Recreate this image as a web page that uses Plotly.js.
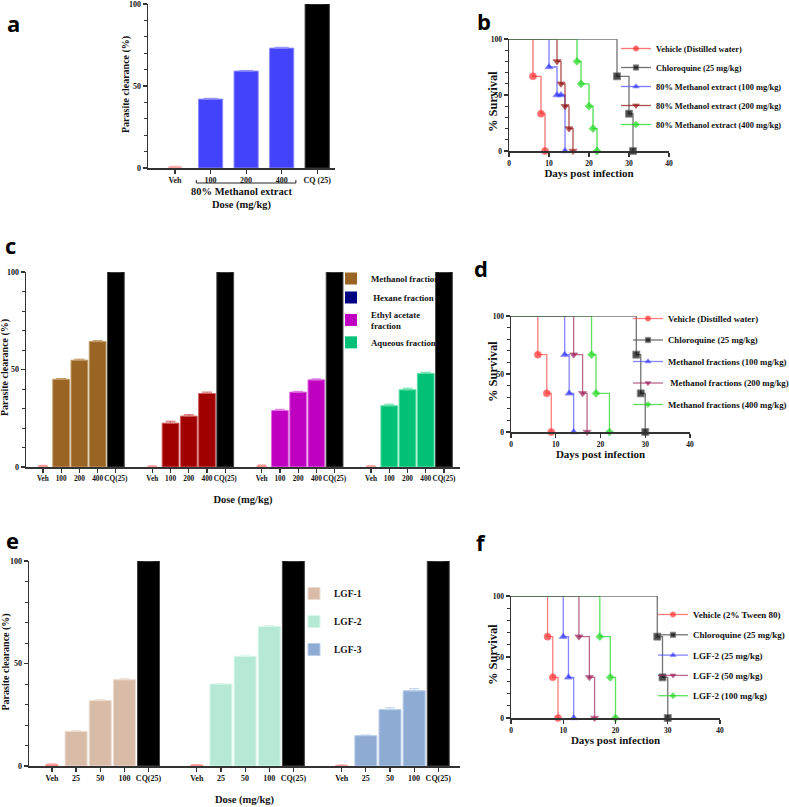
<!DOCTYPE html>
<html><head><meta charset="utf-8">
<script src="https://cdn.plot.ly/plotly-3.0.1.min.js"></script>
<style>html,body{margin:0;padding:0;background:#fff}#chart{width:789px;height:807px}</style>
</head><body><div id="chart"></div>
<script>
// ---------------- DATA ----------------
// Panel a: 80% methanol extract, parasite clearance (%)
const aTickLabels = ['Veh', '100', '200', '400', 'CQ (25)'];
const aValues = [0.8, 42.0, 59.1, 73.1, 100];
const aErrors = [0.3, 0.5, 0.4, 0.5, 0];

// Panel b: survival, 80% methanol extract
const bNames = ['Vehicle (Distilled water)', 'Chloroquine (25 mg/kg)', '80% Methanol extract (100 mg/kg)', '80% Methanol extract (200 mg/kg)', '80% Methanol extract (400 mg/kg)'];
const bDays = [[0, 6, 8, 9], [0, 27, 30, 31], [0, 10, 12, 13, 14], [0, 12, 13, 14, 15, 16], [0, 17, 18, 20, 21, 22]];
const bSurvival = [[100, 66.7, 33.3, 0], [100, 66.7, 33.3, 0], [100, 75, 50, 50, 0], [100, 80, 60, 40, 20, 0], [100, 80, 60, 40, 20, 0]];

// Panel c: solvent fractions, parasite clearance (%)
const cTickLabels = ['Veh', '100', '200', '400', 'CQ(25)'];
const cFractionNames = ['Methanol fraction', ' Hexane fraction', 'Ethyl acetate<br>fraction', 'Aqueous fraction'];
const cVehicle = [0.6, 0.4, 0.7, 0.4];
const cVehicleErr = [0.3, 0.2, 0.4, 0.2];
const cMethanol = [45.0, 54.8, 64.3];
const cHexane = [22.5, 26.1, 37.7];
const cEthylAcetate = [29.0, 38.4, 44.7];
const cAqueous = [31.4, 39.6, 48.0];
const cMethanolErr = [0.4, 0.5, 0.5];
const cHexaneErr = [1.0, 0.7, 0.7];
const cEthylAcetateErr = [0.6, 0.4, 0.5];
const cAqueousErr = [0.8, 0.8, 0.6];
const cChloroquine = [100, 100, 100, 100];

// Panel d: survival, methanol fractions
const dNames = ['Vehicle (Distilled water)', 'Chloroquine (25 mg/kg)', 'Methanol fractions (100 mg/kg)', ' Methanol fractions (200 mg/kg)', 'Methanol fractions (400 mg/kg)'];
const dDays = [[0, 6, 8, 9], [0, 28, 29, 30], [0, 12, 13, 14], [0, 14, 16, 17], [0, 18, 19, 22]];
const dSurvival = [[100, 66.7, 33.3, 0], [100, 66.7, 33.3, 0], [100, 66.7, 33.3, 0], [100, 66.7, 33.3, 0], [100, 66.7, 33.3, 0]];

// Panel e: LGF sub-fractions, parasite clearance (%)
const eTickLabels = ['Veh', '25', '50', '100', 'CQ(25)'];
const eNames = ['LGF-1', 'LGF-2', 'LGF-3'];
const eVehicle = [0.8, 0.5, 0.3];
const eVehicleErr = [0.2, 0.2, 0.2];
const eLGF1 = [16.9, 31.9, 42.1];
const eLGF2 = [40.0, 53.5, 68.1];
const eLGF3 = [14.8, 27.5, 36.7];
const eLGF1Err = [0.3, 0.4, 0.5];
const eLGF2Err = [0.3, 0.6, 0.4];
const eLGF3Err = [0.3, 0.9, 1.0];
const eChloroquine = [100, 100, 100];

// Panel f: survival, LGF-2
const fNames = ['Vehicle (2% Tween 80)', 'Chloroquine (25 mg/kg)', 'LGF-2 (25 mg/kg)', 'LGF-2 (50 mg/kg)', 'LGF-2 (100 mg/kg)'];
const fDays = [[0, 7, 8, 9], [0, 28, 29, 30], [0, 10, 11, 12], [0, 13, 15, 16], [0, 17, 19, 20]];
const fSurvival = [[100, 66.7, 33.3, 0], [100, 66.7, 33.3, 0], [100, 66.7, 33.3, 0], [100, 66.7, 33.3, 0], [100, 66.7, 33.3, 0]];

// ---------------- STYLE / LAYOUT ----------------
const W = 789, H = 807;
const X = p => p / W, Y = p => 1 - p / H;
const SERIF = 'Liberation Serif';
const tf = (s) => ({family: SERIF, size: s, weight: 'bold', color: '#111'});

function axisBase(extra) {
  return Object.assign({
    showgrid: false, zeroline: false, showline: true, linecolor: '#333', linewidth: 1.5,
    ticks: 'outside', ticklen: 4, tickwidth: 1.2, tickcolor: '#333', tickangle: 0,
    tickfont: tf(8), fixedrange: true
  }, extra);
}
const yMinor = {ticks: 'outside', dtick: 10, tick0: 0, ticklen: 2.5, tickwidth: 1, tickcolor: '#333'};

const traces = [];

function barTrace(x, y, err, color, lineColor, width, xa, ya, errWidth) {
  return {
    type: 'bar', x: x, y: y, xaxis: xa, yaxis: ya, width: width, showlegend: false,
    marker: {color: color, line: {color: lineColor, width: 1}},
    error_y: {type: 'data', symmetric: false, array: err, arrayminus: err.map(() => 0),
      color: lineColor, thickness: 1, width: errWidth},
    hoverinfo: 'skip'
  };
}

// Panel a
const aIdx = aValues.map((_, i) => i);
traces.push(barTrace([aIdx[0]], [aValues[0]], [aErrors[0]], '#ff8a8a', '#ffb0b0', 0.35, 'x', 'y', 4));
traces.push(barTrace(aIdx.slice(1, 4), aValues.slice(1, 4), aErrors.slice(1, 4), '#4343fb', '#8d8dff', 0.68, 'x', 'y', 7));
traces.push(barTrace([aIdx[4]], [aValues[4]], [aErrors[4]], '#000000', '#333', 0.68, 'x', 'y', 7));

// Panel c
const cDose = [cMethanol, cHexane, cEthylAcetate, cAqueous];
const cDoseErr = [cMethanolErr, cHexaneErr, cEthylAcetateErr, cAqueousErr];
const cBarColors = ['#9a6524', '#a00000', '#c000c0', '#00c176'];
const cEdgeColors = ['#c19a66', '#d06060', '#e070e0', '#60e0a8'];
const cLegendColors = ['#9a6524', '#000080', '#c000c0', '#00c176'];
const cTickVals = [], cTickText = [];
cDose.forEach((vals, g) => {
  const base = g * 6;
  traces.push(barTrace([base], [cVehicle[g]], [cVehicleErr[g]], '#ff7070', '#ffa0a0', 0.5, 'x3', 'y3', 4));
  traces.push(barTrace(vals.map((_, i) => base + 1 + i), vals, cDoseErr[g], cBarColors[g], cEdgeColors[g], 0.92, 'x3', 'y3', 5));
  traces.push(barTrace([base + 4], [cChloroquine[g]], [0], '#000000', '#444', 0.92, 'x3', 'y3', 5));
  cTickLabels.forEach((t, i) => { cTickVals.push(base + i); cTickText.push(t); });
});
cFractionNames.forEach((n, g) => {
  traces.push({type: 'bar', x: [null], y: [null], xaxis: 'x3', yaxis: 'y3', name: n, legend: 'legend2',
    marker: {color: cLegendColors[g]}, showlegend: true, hoverinfo: 'skip'});
});

// Panel e
const eDose = [eLGF1, eLGF2, eLGF3];
const eDoseErr = [eLGF1Err, eLGF2Err, eLGF3Err];
const eBarColors = ['#d9bca7', '#b5e9d6', '#8eabd4'];
const eEdgeColors = ['#ecdccf', '#d8f6ea', '#b9cdea'];
const eTickVals = [], eTickText = [];
eDose.forEach((vals, g) => {
  const base = g * 6;
  traces.push(barTrace([base], [eVehicle[g]], [eVehicleErr[g]], '#ff7070', '#ffa0a0', 0.5, 'x5', 'y5', 4));
  const t = barTrace(vals.map((_, i) => base + 1 + i), vals, eDoseErr[g], eBarColors[g], eEdgeColors[g], 0.91, 'x5', 'y5', 5);
  t.showlegend = true; t.name = eNames[g]; t.legend = 'legend4'; t.legendgroup = eNames[g];
  traces.push(t);
  traces.push(barTrace([base + 4], [eChloroquine[g]], [0], '#000000', '#444', 0.91, 'x5', 'y5', 5));
  eTickLabels.forEach((tt, i) => { eTickVals.push(base + i); eTickText.push(tt); });
});

// Survival panels
function survivalSet(names, days, surv, xa, ya, legend, colors) {
  const symbols = ['circle', 'square', 'triangle-up', 'triangle-down', 'diamond'];
  const drawOrder = [0, 2, 3, 4, 1]; // chloroquine drawn last (grey top line)
  drawOrder.forEach(k => {
    traces.push({
      type: 'scatter', mode: 'lines+markers', x: days[k], y: surv[k], name: names[k],
      xaxis: xa, yaxis: ya, legend: legend, legendrank: k + 1, legendgroup: legend + k,
      line: {shape: 'hv', color: colors[k][1], width: 1.3},
      marker: {symbol: symbols[k], color: colors[k][0], size: days[k].map((_, i) => i === 0 ? 0 : (k === 4 ? 6 : 7))},
      cliponaxis: false, hoverinfo: 'skip'
    });
  });
}
const bCols = [['#ff2a2a', 'rgba(255,70,70,0.75)'], ['#000000', 'rgba(90,90,90,0.85)'], ['#2a2aff', 'rgba(80,80,255,0.75)'], ['#8b0a0a', 'rgba(150,20,20,0.75)'], ['#1ed81e', 'rgba(40,215,40,0.8)']];
const dCols = [['#ff2a2a', 'rgba(255,70,70,0.7)'], ['#000000', 'rgba(90,90,90,0.85)'], ['#2a2aff', 'rgba(80,80,255,0.7)'], ['#9a1452', 'rgba(160,40,95,0.7)'], ['#1ed81e', 'rgba(40,215,40,0.75)']];
survivalSet(bNames, bDays, bSurvival, 'x2', 'y2', 'legend', bCols);
survivalSet(dNames, dDays, dSurvival, 'x4', 'y4', 'legend3', dCols);
survivalSet(fNames, fDays, fSurvival, 'x6', 'y6', 'legend5', dCols);

const barY = (dom, anchor) => axisBase({domain: dom, range: [0, 100], tickvals: [0, 50, 100], minor: yMinor, anchor: anchor});
const survX = (dom, anchor, title) => axisBase({domain: dom, range: [0, 40], tickvals: [0, 10, 20, 30, 40], anchor: anchor,
  tickfont: tf(7.5), title: {text: title, font: tf(11), standoff: 3}});
const survY = (dom, anchor) => axisBase({domain: dom, range: [0, 100], tickvals: [0, 50, 100], anchor: anchor, minor: yMinor,
  tickfont: tf(7.5)});

const legendBase = (x, yTop, size, gap) => ({x: X(x), y: Y(yTop), xanchor: 'left', yanchor: 'top', bgcolor: 'rgba(0,0,0,0)',
  borderwidth: 0, font: tf(size), tracegroupgap: gap, itemclick: false, itemdoubleclick: false});

const panelLabel = (t, x, y) => ({text: '<b>' + t + '</b>', x: X(x), y: Y(y), xref: 'paper', yref: 'paper', showarrow: false,
  font: {family: 'Open Sans', size: 22, color: '#000'}, xanchor: 'center', yanchor: 'middle'});
const yTitle = (t, x, y, size) => ({text: t, x: X(x), y: Y(y), xref: 'paper', yref: 'paper', showarrow: false, textangle: -90,
  font: tf(size), xanchor: 'center', yanchor: 'middle'});

const layout = {
  width: W, height: H, margin: {l: 0, r: 0, t: 0, b: 0, autoexpand: false}, paper_bgcolor: '#fff', plot_bgcolor: 'rgba(0,0,0,0)',
  barmode: 'overlay', showlegend: true,
  // a
  xaxis: axisBase({domain: [X(148), X(335)], range: [-0.76, 4.5], tickvals: aIdx, ticktext: aTickLabels, anchor: 'y',
    title: {text: '80% Methanol extract<br>Dose (mg/kg)', font: tf(10.5), standoff: 3}}),
  yaxis: barY([Y(168), Y(4)], 'x'),
  // b
  xaxis2: survX([X(509), X(669)], 'y2', 'Days post infection'),
  yaxis2: survY([Y(151), Y(39)], 'x2'),
  // c
  xaxis3: axisBase({domain: [X(26), X(460)], range: [-0.93, 22.88], tickvals: cTickVals, ticktext: cTickText, anchor: 'y3',
    tickfont: tf(7.3), title: {text: 'Dose (mg/kg)', font: tf(10.5), standoff: 13}}),
  yaxis3: barY([Y(467), Y(272)], 'x3'),
  // d
  xaxis4: survX([X(511), X(690)], 'y4', 'Days post infection'),
  yaxis4: survY([Y(432), Y(316)], 'x4'),
  // e
  xaxis5: axisBase({domain: [X(29), X(460)], range: [-0.95, 16.9], tickvals: eTickVals, ticktext: eTickText, anchor: 'y5',
    title: {text: 'Dose (mg/kg)', font: tf(10.5), standoff: 13}}),
  yaxis5: barY([Y(766), Y(561)], 'x5'),
  // f
  xaxis6: survX([X(511), X(720)], 'y6', 'Days post infection'),
  yaxis6: survY([Y(718), Y(596)], 'x6'),
  legend: legendBase(616, 34, 8.4, 0),
  legend2: Object.assign(legendBase(331, 264, 8.8, 0), {traceorder: 'normal'}),
  legend3: legendBase(628, 304, 8.8, 2.5),
  legend4: Object.assign(legendBase(294, 579, 9.5, 9), {traceorder: 'grouped'}),
  legend5: legendBase(653, 600, 9, 1.3),
  shapes: [
    {type: 'path', xref: 'x', yref: 'paper', path: `M 0.6 ${Y(180)} L 0.6 ${Y(183)} L 3.4 ${Y(183)} L 3.4 ${Y(180)}`,
      line: {color: '#222', width: 1}}
  ],
  annotations: [
    panelLabel('a', 13, 23), panelLabel('b', 484, 21), panelLabel('c', 10, 245),
    panelLabel('d', 481, 268), panelLabel('e', 12, 540), panelLabel('f', 481, 542),
    yTitle('Parasite clearance (%)', 126, 85, 10),
    yTitle('% Survival', 493, 102, 12.5),
    yTitle('Parasite clearance (%)', 5, 368, 10),
    yTitle('% Survival', 493, 372, 12.5),
    yTitle('Parasite clearance (%)', 5.5, 662, 10),
    yTitle('% Survival', 493, 655, 12.5)
  ]
};

Plotly.newPlot('chart', traces, layout, {staticPlot: true, displayModeBar: false});
</script>
</body></html>
